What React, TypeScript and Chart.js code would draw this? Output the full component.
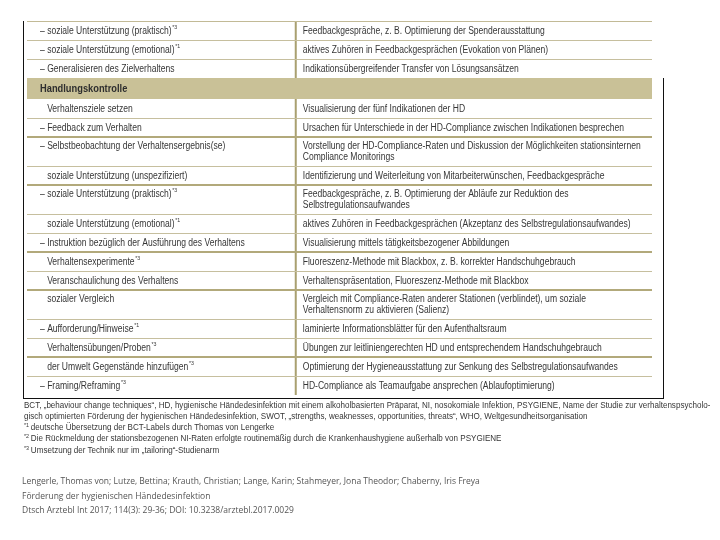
import React, { useEffect, useRef } from "react";
import { Chart, registerables } from "chart.js";

Chart.register(...registerables);

// ---- table content ----
const leftCells: string[] = [
  "– soziale Unterstützung (praktisch)*3",
  "– soziale Unterstützung (emotional)*1",
  "– Generalisieren des Zielverhaltens",
  "Handlungskontrolle",
  "Verhaltensziele setzen",
  "– Feedback zum Verhalten",
  "– Selbstbeobachtung der Verhaltensergebnis(se)",
  "soziale Unterstützung (unspezifiziert)",
  "– soziale Unterstützung (praktisch)*3",
  "soziale Unterstützung (emotional)*1",
  "– Instruktion bezüglich der Ausführung des Verhaltens",
  "Verhaltensexperimente*3",
  "Veranschaulichung des Verhaltens",
  "sozialer Vergleich",
  "– Aufforderung/Hinweise*1",
  "Verhaltensübungen/Proben*3",
  "der Umwelt Gegenstände hinzufügen*3",
  "– Framing/Reframing*3",
];

const rightCells: string[][] = [
  ["Feedbackgespräche, z. B. Optimierung der Spenderausstattung"],
  ["aktives Zuhören in Feedbackgesprächen (Evokation von Plänen)"],
  ["Indikationsübergreifender Transfer von Lösungsansätzen"],
  [],
  ["Visualisierung der fünf Indikationen der HD"],
  ["Ursachen für Unterschiede in der HD-Compliance zwischen Indikationen besprechen"],
  ["Vorstellung der HD-Compliance-Raten und Diskussion der Möglichkeiten stationsinternen", "Compliance Monitorings"],
  ["Identifizierung und Weiterleitung von Mitarbeiterwünschen, Feedbackgespräche"],
  ["Feedbackgespräche, z. B. Optimierung der Abläufe zur Reduktion des", "Selbstregulationsaufwandes"],
  ["aktives Zuhören in Feedbackgesprächen (Akzeptanz des Selbstregulationsaufwandes)"],
  ["Visualisierung mittels tätigkeitsbezogener Abbildungen"],
  ["Fluoreszenz-Methode mit Blackbox, z. B. korrekter Handschuhgebrauch"],
  ["Verhaltenspräsentation, Fluoreszenz-Methode mit Blackbox"],
  ["Vergleich mit Compliance-Raten anderer Stationen (verblindet), um soziale", "Verhaltensnorm zu aktivieren (Salienz)"],
  ["laminierte Informationsblätter für den Aufenthaltsraum"],
  ["Übungen zur leitliniengerechten HD und entsprechendem Handschuhgebrauch"],
  ["Optimierung der Hygieneausstattung zur Senkung des Selbstregulationsaufwandes"],
  ["HD-Compliance als Teamaufgabe ansprechen (Ablaufoptimierung)"],
];

const headerRows: boolean[] = [
  false, false, false, true, false, false, false, false, false,
  false, false, false, false, false, false, false, false, false,
];

const strongRuleBelow: boolean[] = [
  false, false, false, false, false, true, false, true, false,
  false, true, false, true, false, false, true, false, false,
];

const footnotes: string[] = [
  "BCT, „behaviour change techniques“, HD, hygienische Händedesinfektion mit einem alkoholbasierten Präparat, NI, nosokomiale Infektion, PSYGIENE, Name der Studie zur verhaltenspsycholo-",
  "gisch optimierten Förderung der hygienischen Händedesinfektion, SWOT, „strengths, weaknesses, opportunities, threats“, WHO, Weltgesundheitsorganisation",
];
const footnoteMarks: string[] = ["*1", "*2", "*3"];
const footnoteMarked: string[] = [
  "deutsche Übersetzung der BCT-Labels durch Thomas von Lengerke",
  "Die Rückmeldung der stationsbezogenen NI-Raten erfolgte routinemäßig durch die Krankenhaushygiene außerhalb von PSYGIENE",
  "Umsetzung der Technik nur im „tailoring“-Studienarm",
];
const citation: string[] = [
  "Lengerle, Thomas von; Lutze, Bettina; Krauth, Christian; Lange, Karin; Stahmeyer, Jona Theodor; Chaberny, Iris Freya",
  "Förderung der hygienischen Händedesinfektion",
  "Dtsch Arztebl Int 2017; 114(3): 29-36; DOI: 10.3238/arztebl.2017.0029",
];

// column split, in percent of table width
const COLUMN_SPLIT = 43;

const FONT = "'Liberation Sans', Arial, sans-serif";
const CONDENSE = 0.855;
const CONDENSE_BOLD = 0.93;

function rowUnits(i: number): number {
  if (headerRows[i]) return 2.1;
  const n = Math.max(1, rightCells[i].length);
  return n + 0.9;
}

const boundaries: number[] = (() => {
  const b = [0];
  for (let i = 0; i < leftCells.length; i++) b.push(b[i] + rowUnits(i));
  return b;
})();

function drawWithSup(ctx: CanvasRenderingContext2D, text: string, x: number, y: number, size: number, bold: boolean) {
  const m = text.match(/^(.*?)(\*\d)$/);
  const w = bold ? "bold " : "";
  ctx.save();
  ctx.translate(x, y);
  ctx.scale(bold ? CONDENSE_BOLD : CONDENSE, 1);
  ctx.font = `${w}${size}px ${FONT}`;
  if (!m) {
    ctx.fillText(text, 0, 0);
  } else {
    ctx.fillText(m[1], 0, 0);
    const wd = ctx.measureText(m[1]).width;
    ctx.font = `${w}${size * 0.62}px ${FONT}`;
    ctx.fillText(m[2], wd + 0.8, -size * 0.4);
  }
  ctx.restore();
}

const tablePlugin = {
  id: "tablePlugin",
  afterDraw(chart: any) {
    const { ctx, chartArea, scales } = chart;
    const xs = scales.x;
    const ys = scales.y;
    const L = chartArea.left;
    const R = chartArea.right;
    const split = xs.getPixelForValue(COLUMN_SPLIT);
    const unit = Math.abs(ys.getPixelForValue(1) - ys.getPixelForValue(0));
    const size = 10;
    ctx.save();
    ctx.textBaseline = "middle";

    // header bands and dividers
    for (let i = 0; i < leftCells.length; i++) {
      const top = ys.getPixelForValue(boundaries[i]);
      const bot = ys.getPixelForValue(boundaries[i + 1]);
      if (headerRows[i]) {
        ctx.fillStyle = "#c9c197";
        ctx.fillRect(L, top, R - L, bot - top);
      } else {
        ctx.fillStyle = "#a9a070";
        ctx.fillRect(split - 1, top, 2, bot - top);
      }
    }

    // rules
    const firstTop = ys.getPixelForValue(boundaries[0]);
    ctx.fillStyle = "#c2ba96";
    ctx.fillRect(L, Math.round(firstTop), R - L, 1);
    for (let i = 0; i < leftCells.length - 1; i++) {
      if (headerRows[i] || headerRows[i + 1]) continue;
      const y = Math.round(ys.getPixelForValue(boundaries[i + 1]));
      if (strongRuleBelow[i]) {
        ctx.fillStyle = "#b2a97b";
        ctx.fillRect(L, y - 1, R - L, 2);
      } else {
        ctx.fillStyle = "#c6bf9e";
        ctx.fillRect(L, y, R - L, 1);
      }
    }

    // text
    ctx.fillStyle = "#363636";
    ctx.font = `${size}px ${FONT}`;
    const dashW = ctx.measureText("– ").width * CONDENSE;
    const lineGap = unit * 1.08;
    for (let i = 0; i < leftCells.length; i++) {
      const top = ys.getPixelForValue(boundaries[i]);
      const bot = ys.getPixelForValue(boundaries[i + 1]);
      const mid = (top + bot) / 2;
      if (headerRows[i]) {
        ctx.fillStyle = "#2e2e2e";
        drawWithSup(ctx, leftCells[i], L + 13, mid + 0.5, size, true);
        ctx.fillStyle = "#363636";
        continue;
      }
      const lines = rightCells[i];
      const firstY = mid - ((lines.length - 1) * lineGap) / 2 + 0.5;
      const lt = leftCells[i];
      const lx = lt.startsWith("–") ? L + 13 : L + 13 + dashW;
      drawWithSup(ctx, lt, lx, firstY, size, false);
      lines.forEach((ln, k) => {
        drawWithSup(ctx, ln, split + 7, firstY + k * lineGap, size, false);
      });
    }

    // outer frame
    const bottomY = ys.getPixelForValue(boundaries[boundaries.length - 1]) + 3;
    let headTop = firstTop;
    for (let i = 0; i < leftCells.length; i++) {
      if (headerRows[i]) { headTop = ys.getPixelForValue(boundaries[i]); break; }
    }
    ctx.fillStyle = "#111";
    ctx.fillRect(L - 4, Math.round(firstTop), 1, Math.round(bottomY - firstTop) + 1);
    ctx.fillRect(L - 4, Math.round(bottomY), R - L + 16, 1);
    ctx.fillRect(R + 11, Math.round(headTop), 1, Math.round(bottomY - headTop) + 1);
    ctx.restore();
  },
};

export default function App() {
  const ref = useRef<HTMLCanvasElement | null>(null);
  useEffect(() => {
    if (!ref.current) return;
    const chart = new Chart(ref.current, {
      type: "scatter",
      data: { datasets: [{ data: [], pointRadius: 0 }] },
      options: {
        animation: false,
        responsive: false,
        events: [],
        layout: { padding: { left: 27, right: 68, top: 21, bottom: 145 } },
        plugins: { legend: { display: false }, tooltip: { enabled: false } },
        scales: {
          x: { type: "linear", min: 0, max: 100, display: false },
          y: { type: "linear", min: 0, max: boundaries[boundaries.length - 1], reverse: true, display: false },
        },
      },
      plugins: [tablePlugin],
    });
    return () => chart.destroy();
  }, []);

  const noteStyle: React.CSSProperties = {
    position: "absolute",
    left: 24,
    top: 400,
    fontFamily: FONT,
    fontSize: 9,
    lineHeight: "10.8px",
    color: "#363636",
    whiteSpace: "nowrap",
    transform: "scaleX(0.895)",
    transformOrigin: "0 0",
  };
  const supStyle: React.CSSProperties = { fontSize: 6, position: "relative", top: -3, marginRight: 2 };

  return (
    <div style={{ position: "absolute", left: 0, top: 0, width: 720, height: 540, background: "#fff", overflow: "hidden" }}>
      <canvas ref={ref} width={720} height={540} style={{ position: "absolute", left: 0, top: 0 }} />
      <div style={noteStyle}>
        {footnotes.map((t, i) => (
          <div key={"f" + i}>{t}</div>
        ))}
        {footnoteMarked.map((t, i) => (
          <div key={"m" + i}>
            <span style={supStyle}>{footnoteMarks[i]}</span>
            {t}
          </div>
        ))}
      </div>
      <div
        style={{
          position: "absolute",
          left: 22,
          top: 474,
          fontFamily: "'Open Sans', 'DejaVu Sans', sans-serif",
          fontSize: 8.5,
          lineHeight: "14.6px",
          color: "#555",
          whiteSpace: "nowrap",
        }}
      >
        {citation.map((t, i) => (
          <div key={"c" + i}>{t}</div>
        ))}
      </div>
    </div>
  );
}
